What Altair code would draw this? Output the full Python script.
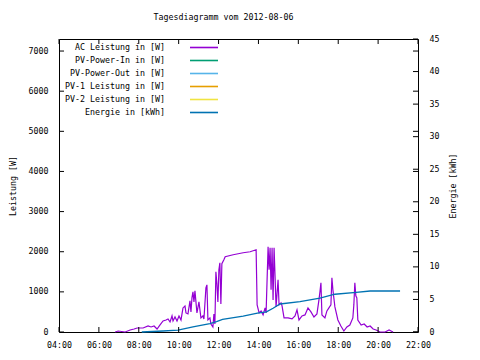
import altair as alt
import pandas as pd

# ---- data ----
ac_time = ["06:49","06:58","07:19","07:34","07:46","07:55","08:13","08:28","08:37","08:46",
           "08:55","09:04","09:13","09:22","09:28","09:34","09:40","09:43","09:49","09:55",
           "10:01","10:07","10:13","10:19","10:22","10:28","10:34","10:37","10:40","10:43",
           "10:46","10:49","10:55","11:01","11:07","11:13","11:16","11:22","11:25","11:28",
           "11:34","11:37","11:43","11:46","11:49","11:52","11:55","11:58","12:01","12:04",
           "12:07","12:10","12:16","12:20","12:44","13:14","13:35","13:53","13:56","14:02",
           "14:08","14:14","14:20","14:23","14:29","14:32","14:35","14:38","14:41","14:44",
           "14:47","14:50","14:53","14:59","15:02","15:08","15:11","15:17","15:29","15:41",
           "15:50","15:56","16:02","16:11","16:20","16:29","16:38","16:47","16:56","17:02",
           "17:05","17:08","17:11","17:20","17:26","17:32","17:38","17:41","17:44","17:50",
           "17:59","18:08","18:17","18:26","18:35","18:44","18:47","18:50","18:53","18:56",
           "18:59","19:09","19:18","19:27","19:36","19:45","19:54","20:06","20:21","20:33",
           "20:39","20:45"]
ac_watt = [0,25,0,50,75,100,100,150,125,150,
           75,175,275,300,325,250,400,275,375,275,
           400,300,600,650,475,450,775,500,850,1000,
           750,1025,475,750,350,400,325,1100,1175,300,
           350,200,125,450,200,1500,1200,750,1550,1725,
           700,1700,1800,1875,1925,1975,2000,2050,675,475,
           525,425,600,475,2125,1550,2100,1050,2100,800,
           2100,1375,625,1300,675,725,650,350,350,325,
           400,550,300,400,425,600,500,375,450,800,
           1000,1225,425,350,525,600,675,1350,1050,625,
           300,150,25,125,175,350,675,1225,900,850,
           300,175,200,125,150,75,50,0,0,50,
           25,0]

en_time = ["08:09","09:13","09:58","10:43","11:34","11:54","12:12","13:14","13:57",
           "14:24","14:44","15:05","16:05","17:05","17:50","18:54","19:36","21:06"]
en_kwh = [0,0.15,0.3,0.8,1.3,1.6,1.95,2.45,2.9,3.1,3.65,4.3,4.65,5.2,5.8,6.1,6.3,6.3]

x_ticks = [4,6,8,10,12,14,16,18,20,22]
w_ticks = [0,1000,2000,3000,4000,5000,6000,7000]
e_ticks = [0,5,10,15,20,25,30,35,40,45]

legend_labels = ["AC Leistung in [W]","PV-Power-In in [W]","PV-Power-Out in [W]",
                 "PV-1 Leistung in [W]","PV-2 Leistung in [W]","Energie in [kWh]"]
legend_colors = ["#9400d3","#009e73","#56b4e9","#e69f00","#f0e442","#0072b2"]

title_text = "Tagesdiagramm vom 2012-08-06"

def to_h(s):
    h, m = s.split(":")
    return int(h) + int(m) / 60.0

ac_df = pd.DataFrame({"h": [to_h(t) for t in ac_time], "w": ac_watt})
en_df = pd.DataFrame({"h": [to_h(t) for t in en_time], "e": en_kwh})
xt_df = pd.DataFrame({"h": x_ticks})
wt_df = pd.DataFrame({"w": w_ticks})
et_df = pd.DataFrame({"e": e_ticks})
leg_df = pd.DataFrame({"label": legend_labels, "row": list(range(len(legend_labels)))})
title_df = pd.DataFrame({"t": [title_text]})

FONT = "DejaVu Sans Mono"
FS = 8.3
W, H = 359, 293

x_scale = alt.Scale(domain=[4, 22], nice=False, zero=False)
w_scale = alt.Scale(domain=[0, 7300], nice=False)
e_scale = alt.Scale(domain=[0, 45], nice=False)
row_scale = alt.Scale(type="point", domain=list(range(6)), range=[8.5, 73.5], padding=0)

ax_common = dict(grid=False, domain=False, ticks=False, labelFont=FONT, labelFontSize=FS,
                 labelColor="black", labelFlush=False, labelOverlap=False,
                 titleFont=FONT, titleFontSize=FS, titleColor="black", titleFontWeight="normal")

x_axis = alt.Axis(values=x_ticks, title=None, labelPadding=8,
                  labelExpr="(datum.value < 10 ? '0' : '') + datum.value + ':00'", **ax_common)

def X():
    return alt.X("h:Q", scale=x_scale, axis=x_axis)

ac = alt.Chart(ac_df).mark_line(color="#9400d3", strokeWidth=1.2).encode(
    x=X(),
    y=alt.Y("w:Q", scale=w_scale, axis=alt.Axis(
        orient="left", values=w_ticks, format="d", title="Leistung [W]", labelPadding=11,
        titleX=-46, titleY=H / 2, titleAngle=270, titleAlign="center",
        titleBaseline="middle", **ax_common)),
)

en = alt.Chart(en_df).mark_line(color="#0072b2", strokeWidth=1.3).encode(
    x=X(),
    y=alt.Y("e:Q", scale=e_scale, axis=alt.Axis(
        orient="right", values=e_ticks, format="d", title="Energie [kWh]", labelPadding=11,
        titleX=35, titleY=H / 2, titleAngle=270, titleAlign="center",
        titleBaseline="middle", **ax_common)),
)

xt_bot = alt.Chart(xt_df).mark_rule(color="black", strokeWidth=1).encode(
    x=X(), y=alt.value(H), y2=alt.value(H - 5))
xt_top = alt.Chart(xt_df).mark_rule(color="black", strokeWidth=1).encode(
    x=X(), y=alt.value(0), y2=alt.value(5))
wt_l = alt.Chart(wt_df).mark_rule(color="black", strokeWidth=1).encode(
    y=alt.Y("w:Q", scale=w_scale, axis=None), x=alt.value(0), x2=alt.value(5))
wt_r = alt.Chart(wt_df).mark_rule(color="black", strokeWidth=1).encode(
    y=alt.Y("w:Q", scale=w_scale, axis=None), x=alt.value(W - 5), x2=alt.value(W))
et_r = alt.Chart(et_df).mark_rule(color="black", strokeWidth=1).encode(
    y=alt.Y("e:Q", scale=e_scale, axis=None), x=alt.value(W - 5), x2=alt.value(W))

leg_text = alt.Chart(leg_df).mark_text(
    align="right", baseline="middle", font=FONT, fontSize=FS, color="black").encode(
    x=alt.value(106), y=alt.Y("row:O", scale=row_scale, axis=None), text="label:N")
leg_line = alt.Chart(leg_df).mark_rule(strokeWidth=1.6).encode(
    x=alt.value(131), x2=alt.value(159),
    y=alt.Y("row:O", scale=row_scale, axis=None),
    color=alt.Color("label:N", scale=alt.Scale(domain=legend_labels, range=legend_colors),
                    legend=None))

title_mark = alt.Chart(title_df).mark_text(
    align="center", baseline="middle", font=FONT, fontSize=FS, color="black").encode(
    x=alt.value(W / 2 - 15), y=alt.value(-21), text="t:N")

chart = alt.layer(
    ac, en, xt_bot, xt_top, wt_l, wt_r, et_r, leg_text, leg_line, title_mark
).resolve_scale(y="independent").properties(
    width=W, height=H,
    autosize=alt.AutoSizeParams(type="none"),
    padding={"left": 51, "top": 31, "right": 54, "bottom": 20},
    background="white",
).configure_view(stroke="black", strokeWidth=1)

chart.save("out.html", embed_options={"renderer": "svg", "actions": False})
